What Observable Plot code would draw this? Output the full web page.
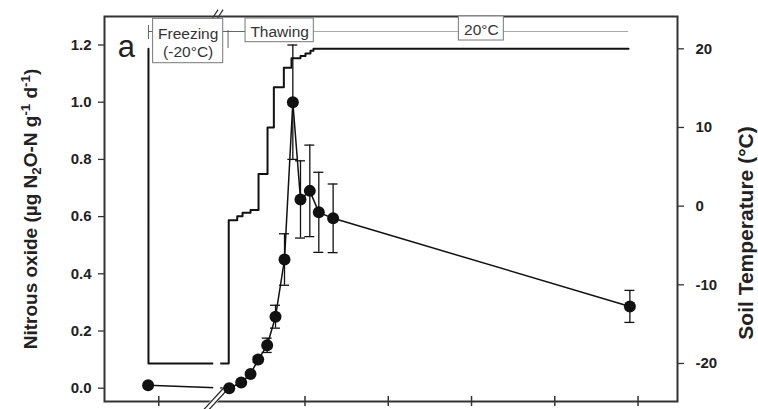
<!DOCTYPE html>
<html><head><meta charset="utf-8">
<script src="https://cdn.jsdelivr.net/npm/d3@7"></script>
<script src="https://cdn.jsdelivr.net/npm/@observablehq/plot@0.6"></script>
<style>body{margin:0;background:#fff}svg{display:block}</style>
</head><body><div id="chart"></div>
<script>
// N2O samples (x in display-days of the broken axis)
const sampleDay = [-9.42, -4.55, -3.83, -3.27, -2.81, -2.27, -1.77, -1.23, -0.73, -0.27, 0.29, 0.83, 1.69, 19.51];
const n2o = [0.01, 0.00, 0.02, 0.05, 0.10, 0.15, 0.25, 0.45, 1.00, 0.66, 0.69, 0.615, 0.594, 0.286];
const n2oErr = [0, 0, 0, 0, 0.01, 0.025, 0.04, 0.09, 0.20, 0.135, 0.16, 0.14, 0.12, 0.056];
// Soil temperature steps
const tempDay = [-9.40, -9.40, -4.58, -4.07, -3.75, -3.27, -2.79, -2.25, -1.87, -1.27, -0.81, -0.27, 0.03, 0.33, 0.51, 19.43];
const tempC = [20, -20, -1.8, -1.3, -0.85, -0.5, 4.1, 10.0, 15.1, 17.6, 18.8, 19.1, 19.4, 19.75, 20, 20];
// axis ticks
const n2oTicks = [0, 0.2, 0.4, 0.6, 0.8, 1.0, 1.2];
const tempTicks = [-20, -10, 0, 10, 20];
const xTicks = [-8.78, 0, 5, 10, 15, 20];
const breakDay = -5.27;
// period annotations
const periodNames = ["Freezing\n(-20°C)", "Thawing", "20°C"];
const periodX1 = [-9.12, -3.57, 9.24];
const periodX2 = [-4.91, 0.53, 11.94];
const periodY1 = [1.1364, 1.2098, 1.2157];
const periodY2 = [1.2916, 1.2927, 1.2997];
const periodTextY = [1.2105, 1.2472, 1.2542];

const yTop = 1.2997, yBot = -0.0465;
const xLeft = -12.04, xRight = 22.37;
const a0 = 0.6366, a1 = 0.027508;
const tY = t => a0 + a1 * t;
const tInv = v => Math.round((v - a0) / a1);

const pts = sampleDay.map((x, i) => ({x, y: n2o[i], e: n2oErr[i]}));
const errPts = pts.filter(d => d.e > 0);
const temp = tempDay.map((x, i) => ({x, y: tY(tempC[i])}));
const capW = 0.3;
const periods = periodNames.map((name, i) => ({name, x1: periodX1[i], x2: periodX2[i], y1: periodY1[i], y2: periodY2[i], ty: periodTextY[i]}));

const font = "Liberation Sans, Arial, Helvetica, sans-serif";

const chart = Plot.plot({
  width: 758, height: 409,
  marginLeft: 104, marginRight: 81, marginTop: 16, marginBottom: 8,
  style: {fontFamily: font, background: "white", color: "#222", overflow: "visible"},
  x: {domain: [xLeft, xRight], axis: null},
  y: {domain: [yBot, yTop], axis: null},
  marks: [
    Plot.frame({stroke: "#333", strokeWidth: 2}),
    // axes
    Plot.axisY(n2oTicks, {anchor: "left", tickSize: 6, tickPadding: 7, tickFormat: d3.format(".1f"), fontSize: 15, fontWeight: "bold", stroke: "#333", strokeWidth: 1.3, label: null}),
    Plot.axisY(tempTicks.map(tY), {anchor: "right", tickSize: 6, tickPadding: 12, tickFormat: tInv, fontSize: 15, fontWeight: "bold", stroke: "#333", strokeWidth: 1.3, label: null}),
    Plot.axisX(xTicks, {anchor: "bottom", tickSize: 5, tickFormat: () => "", stroke: "#333", strokeWidth: 1.5, label: null}),
    Plot.tickX(xTicks, {x: d => d, insetTop: 380, stroke: "#333", strokeWidth: 1.5}),
    // temperature
    Plot.line(temp, {x: "x", y: "y", curve: "step-after", stroke: "#111", strokeWidth: 2}),
    // N2O
    Plot.line(pts, {x: "x", y: "y", stroke: "#111", strokeWidth: 1.5}),
    // axis break
    Plot.rect([0], {x1: breakDay - 0.21, x2: breakDay + 0.21, y1: yBot, y2: yTop, insetTop: 2, insetBottom: 2, fill: "white"}),
    Plot.link([0], {x1: breakDay - 0.71, y1: yBot - 0.032, x2: breakDay + 0.68, y2: 0.0094, stroke: "white", strokeWidth: 6}),
    Plot.link([0], {x1: breakDay - 0.71, y1: yBot - 0.032, x2: breakDay + 0.68, y2: 0.0094, stroke: "#222", strokeWidth: 1.2, dx: -2.6}),
    Plot.link([0], {x1: breakDay - 0.71, y1: yBot - 0.032, x2: breakDay + 0.68, y2: 0.0094, stroke: "#222", strokeWidth: 1.2, dx: 2.6}),
    Plot.link([0], {x1: breakDay - 0.15, y1: yTop - 0.008, x2: breakDay + 0.2, y2: yTop + 0.024, stroke: "#333", strokeWidth: 1.2, dx: -2.5}),
    Plot.link([0], {x1: breakDay - 0.15, y1: yTop - 0.008, x2: breakDay + 0.2, y2: yTop + 0.024, stroke: "#333", strokeWidth: 1.2, dx: 2.5}),
    // error bars and points
    Plot.ruleX(errPts, {x: "x", y1: d => d.y - d.e, y2: d => d.y + d.e, stroke: "#111", strokeWidth: 1.3}),
    Plot.ruleY(errPts, {y: d => d.y + d.e, x1: d => d.x - capW, x2: d => d.x + capW, stroke: "#111", strokeWidth: 1.3}),
    Plot.ruleY(errPts, {y: d => d.y - d.e, x1: d => d.x - capW, x2: d => d.x + capW, stroke: "#111", strokeWidth: 1.3}),
    Plot.dot(pts, {x: "x", y: "y", r: 6, fill: "#111", stroke: "none"}),
    // period annotations
    Plot.ruleY([1.2472], {x1: tempDay[0], x2: tempDay[14], stroke: "#666", strokeWidth: 1}),
    Plot.ruleY([1.2472], {x1: tempDay[14], x2: tempDay[15], stroke: "#aaa", strokeWidth: 1.2}),
    Plot.ruleX([tempDay[0]], {y1: 1.2192, y2: 1.2682, stroke: "#666", strokeWidth: 1}),
    Plot.ruleX([tempDay[2] - 0.04], {y1: 1.1878, y2: 1.2507, stroke: "#666", strokeWidth: 1}),
    Plot.rect(periods, {x1: "x1", x2: "x2", y1: "y1", y2: "y2", fill: "white", stroke: "#777", strokeWidth: 1}),
    Plot.text(periods, {x: d => (d.x1 + d.x2) / 2, y: "ty", text: "name", fontSize: 15.5, fill: "#333", lineHeight: 1.2}),
    Plot.text(["a"], {x: -10.72, y: 1.1913, text: d => d, fontSize: 31, fill: "#222"}),
    // axis titles
    Plot.text(["Nitrous oxide (µg N2O-N g-1 d-1)"], {frameAnchor: "left", textAnchor: "middle", dx: -74, dy: 0, rotate: -90, text: d => d, fontSize: 19, fontWeight: "bold", fill: "#222", className: "ylab-left"}),
    Plot.text(["Soil Temperature (°C)"], {frameAnchor: "right", textAnchor: "middle", dx: 69, dy: 24, rotate: -90, text: d => d, fontSize: 21, fontWeight: "bold", fill: "#222"})
  ]
});
d3.select(chart).select(".ylab-left text").html(
  'Nitrous oxide (µg N<tspan dy="4" font-size="70%">2</tspan><tspan dy="-4">O-N g</tspan><tspan dy="-7" font-size="70%">-1</tspan><tspan dy="7"> d</tspan><tspan dy="-7" font-size="70%">-1</tspan><tspan dy="7">)</tspan>'
);
document.getElementById("chart").appendChild(chart);
</script>
</body></html>
